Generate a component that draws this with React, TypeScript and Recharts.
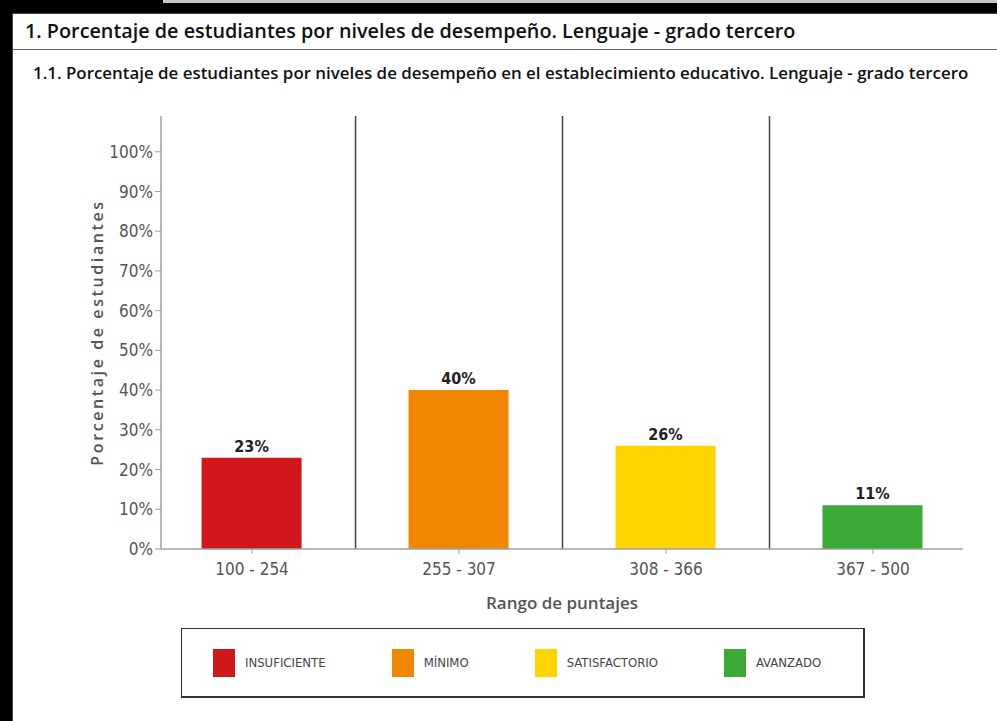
import {
  Bar,
  BarChart,
  Cell,
  LabelList,
  ReferenceLine,
  XAxis,
  YAxis,
} from "recharts";

const categories = ["100 - 254", "255 - 307", "308 - 366", "367 - 500"];
const levels = ["INSUFICIENTE", "MÍNIMO", "SATISFACTORIO", "AVANZADO"];
const percentages = [23, 40, 26, 11];
const levelColors = ["#D0171C", "#F08700", "#FFD400", "#3BA936"];
const yTicks = [0, 10, 20, 30, 40, 50, 60, 70, 80, 90, 100];
const separators = [0.5, 1.5, 2.5];

const COND = '"DejaVu Sans Condensed", "Liberation Sans Narrow", "DejaVu Sans", sans-serif';
const OPEN = '"Open Sans", "Noto Sans", sans-serif';

const data = categories.map((range, i) => ({
  idx: i,
  range,
  level: levels[i],
  pct: percentages[i],
}));

export default function App() {
  return (
    <div
      style={{
        position: "fixed",
        left: 0,
        top: 0,
        width: 997,
        height: 721,
        background: "#000",
        overflow: "hidden",
      }}
    >
      <div style={{ position: "absolute", left: 163, top: 0, width: 834, height: 3, background: "#c8c8c8" }} />
      {/* white panel */}
      <div
        style={{
          position: "absolute",
          left: 12,
          top: 13,
          width: 1000,
          height: 720,
          background: "#fff",
          borderLeft: "1px solid #444",
          borderTop: "1px solid #444",
        }}
      />
      <div
        style={{
          position: "absolute",
          left: 13,
          top: 49,
          width: 990,
          height: 1,
          background: "#666",
        }}
      />
      <div
        style={{
          position: "absolute",
          left: 25,
          top: 17,
          fontFamily: OPEN,
          fontSize: 19.8,
          fontWeight: 600,
          color: "#111",
          whiteSpace: "nowrap",
        }}
      >
        1. Porcentaje de estudiantes por niveles de desempeño. Lenguaje - grado tercero
      </div>
      <div
        style={{
          position: "absolute",
          left: 33,
          top: 61,
          fontFamily: OPEN,
          fontSize: 16.9,
          fontWeight: 600,
          color: "#111",
          whiteSpace: "nowrap",
        }}
      >
        1.1. Porcentaje de estudiantes por niveles de desempeño en el establecimiento educativo. Lenguaje - grado tercero
      </div>

      <div style={{ position: "absolute", left: 0, top: 0 }}>
        <BarChart
          width={997}
          height={721}
          data={data}
          margin={{ top: 116, right: 34, bottom: 102, left: 0 }}
        >
          <XAxis
            type="number"
            dataKey="idx"
            domain={[-0.44, 3.435]}
            ticks={[0, 1, 2, 3]}
            tickFormatter={(v: number) => categories[v]}
            allowDataOverflow
            height={70}
            axisLine={{ stroke: "#a0a0a0", strokeWidth: 1.5 }}
            tickLine={{ stroke: "#a0a0a0" }}
            tickSize={5}
            tickMargin={9}
            tick={{ fill: "#555", fontSize: 17, fontFamily: COND }}
            label={{
              value: "Rango de puntajes",
              position: "insideBottom",
              offset: 10,
              fill: "#555",
              fontSize: 17,
              fontWeight: 600,
              fontFamily: OPEN,
            }}
          />
          <YAxis
            type="number"
            domain={[0, 109]}
            ticks={yTicks}
            allowDataOverflow
            width={161}
            tickFormatter={(v: number) => `${v}%`}
            axisLine={{ stroke: "#a0a0a0", strokeWidth: 1.5 }}
            tickLine={{ stroke: "#a0a0a0" }}
            tickSize={6}
            tickMargin={2}
            tick={{ fill: "#555", fontSize: 17, fontFamily: COND }}
            label={{
              value: "Porcentaje de estudiantes",
              angle: -90,
              position: "insideLeft",
              offset: 97,
              fill: "#555",
              fontSize: 16,
              fontWeight: 600,
              fontFamily: OPEN,
              letterSpacing: 2.6,
              style: { textAnchor: "middle" },
            }}
          />
          {separators.map((x) => (
            <ReferenceLine key={x} x={x} stroke="#444" strokeWidth={1.5} />
          ))}
          <Bar dataKey="pct" barSize={100} isAnimationActive={false}>
            {data.map((d, i) => (
              <Cell key={d.range} fill={levelColors[i]} />
            ))}
            <LabelList
              dataKey="pct"
              position="top"
              offset={6}
              formatter={(v: number) => `${v}%`}
              fill="#222"
              fontSize={16}
              fontWeight={600}
              fontFamily={COND}
            />
          </Bar>
        </BarChart>
      </div>

      {/* legend */}
      <div
        style={{
          position: "absolute",
          left: 181,
          top: 628,
          width: 684,
          height: 70,
          border: "1px solid #333",
          borderBottomWidth: 2,
          borderRightWidth: 2,
          display: "flex",
          alignItems: "center",
          paddingLeft: 31,
          boxSizing: "border-box",
          gap: 66,
          background: "#fff",
        }}
      >
        {levels.map((lv, i) => (
          <div key={lv} style={{ display: "flex", alignItems: "center" }}>
            <div style={{ width: 22, height: 28, background: levelColors[i] }} />
            <span
              style={{
                marginLeft: 10,
                fontFamily: COND,
                fontSize: 13,
                color: "#444",
              }}
            >
              {lv}
            </span>
          </div>
        ))}
      </div>
    </div>
  );
}
